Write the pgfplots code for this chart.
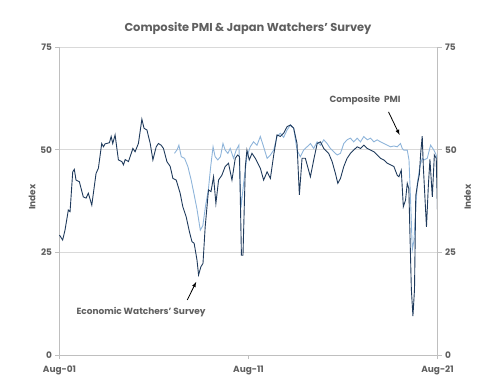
\documentclass[border=0pt]{standalone}
\usepackage{fontspec}
\setmainfont{Poppins}
\usepackage{pgfplots}
\pgfplotsset{compat=1.18}
\definecolor{txt}{HTML}{5F5F5F}
\definecolor{gridc}{HTML}{D9D9D9}
\definecolor{axc}{HTML}{BFBFBF}
\definecolor{ews}{HTML}{1F3A5C}
\definecolor{pmi}{HTML}{8EB4DA}
\begin{document}
\begin{tikzpicture}
\useasboundingbox (-59.5bp,-33bp) rectangle (432.5bp,355bp);
\begin{axis}[
  at={(0,0)}, anchor=south west,
  scale only axis, width=378bp, height=308bp,
  xmin=0, xmax=240, ymin=0, ymax=75,
  axis x line*=bottom, axis y line*=left,
  axis line style={axc, line width=0.8pt, -},
  xtick={0,120,240}, xticklabels={Aug-01,Aug-11,Aug-21},
  ytick={0,25,50,75},
  ymajorgrids, grid style={gridc, line width=0.8pt},
  tick style={axc, line width=0.8pt},
  major tick length=4bp, tick align=outside,
  tick label style={font=\fontsize{9}{11}\selectfont\bfseries, text=txt},
  /pgf/number format/assume math mode=true,
  xticklabel style={yshift=-3bp},
  clip=false,
]
\addplot[pmi, line width=0.9pt] coordinates {
(73,49.1) (74.7,50.0) (75.8,51.1) (77.3,48.3) (79.4,47.9) (81.5,45.9) (83.6,42.6) (85.3,39.4) (87.3,35.5) (89.4,30.4)
(91.0,31.5) (92.8,36.5) (94.5,40.2) (96.0,45.9) (97.5,50.7) (98.8,48.3) (100.5,47.5) (102.2,48.3) (103.8,51.5) (105.2,49.9)
(106.9,49.1) (108.4,50.3) (110.5,47.9) (112.2,49.9) (113.9,51.1) (115.2,35.8) (116.9,41.8) (119.0,48.3) (121.1,50.7) (123.2,51.9)
(125.4,51.1) (127.5,53.2) (129.6,50.7) (131.8,47.9) (133.9,48.7) (136.0,49.9) (138.1,53.2) (140.2,54.0) (142.3,53.0) (144.5,54.8)
(146.6,56.0) (148.7,55.2) (150.8,49.9) (152.9,48.3) (155.0,49.9) (157.2,50.7) (159.3,51.5) (161.4,50.3) (163.6,51.9) (165.7,51.1)
(167.8,52.4) (169.9,51.5) (172.0,50.3) (174.1,49.5) (176.3,48.7) (178.4,49.1) (180.5,51.5) (182.6,52.4) (184.7,52.8) (186.8,51.9)
(189.0,52.8) (191.1,51.9) (193.2,53.2) (195.4,52.4) (197.5,52.8) (199.6,51.9) (201.7,52.4) (203.8,51.9) (205.9,51.5) (208.1,51.1)
(210.2,50.7) (212.3,50.9) (214.4,50.7) (216.5,51.5) (217.6,50.3) (218.6,49.9) (220.8,49.9) (221.9,47.5) (222.9,37.7) (224.0,25.6)
(225.1,28.0) (226.1,35.3) (227.2,41.8) (228.8,45.9) (230.3,47.9) (231.4,47.5) (233.5,47.9) (235.6,51.1) (237.7,49.9) (239.2,48.7) (240,47.1)
};
\addplot[ews, line width=0.9pt] coordinates {
(0,29.2) (2,28.0) (3.5,30.4) (5.6,35.3) (6.7,34.9) (8.4,44.6) (9.4,45.2) (10.5,42.6) (12.6,42.2) (15.1,38.5)
(16.9,38.2) (18.3,39.4) (20.5,36.5) (23.2,44.2) (24.7,45.5) (26.8,51.5) (27.9,50.7) (28.9,51.4) (31.7,51.7) (32.8,53.2)
(33.8,51.5) (35.3,53.6) (37.4,47.5) (39.6,47.1) (40.6,46.3) (41.7,47.6) (43.8,47.1) (46.6,50.3) (48,49.5) (50.1,51.5)
(52.3,57.4) (53.7,55.2) (55.5,54.8) (57.6,51.5) (59.3,47.5) (61.4,50.7) (62.8,51.5) (64.5,51.1) (66,50.3) (68.2,47.1)
(70.3,45.9) (72,43.0) (74.1,42.6) (76.6,39.4) (78.3,36.1) (80.4,33.7) (82.5,30.0) (84.1,27.6) (85.5,27.2) (87.3,23.1)
(88.3,19.5) (89.8,21.5) (91.1,22.3) (92.5,31.2) (94.6,40.2) (96.2,39.8) (97.8,43.4) (99.3,36.9) (101,42.6) (103.1,43.8)
(105.2,45.9) (107.3,46.7) (109.5,42.6) (111.6,47.9) (113.1,48.7) (114.3,48.3) (115.5,24.3) (116.5,24.3) (118,45.9) (119,49.9)
(120.5,47.5) (122.2,49.1) (124.3,47.9) (127.5,45.5) (129.6,42.6) (131.8,44.6) (133.9,43.0) (136,48.7) (138.1,53.6) (140.2,53.2)
(142.3,54.0) (144.5,55.6) (146.6,56.0) (148.7,55.2) (150.8,51.5) (152.3,39.0) (154,47.9) (156.1,47.9) (159.3,43.4) (161.4,47.5)
(163.6,51.5) (165.7,51.9) (167.8,50.3) (170.9,49.1) (173.1,47.1) (175.2,44.2) (176.7,41.8) (178.4,43.0) (180.5,45.9) (182.6,47.9)
(184.7,49.1) (186.8,49.9) (189,50.7) (191.1,50.3) (193.2,51.1) (195.4,50.3) (197.5,49.9) (199.6,49.5) (201.7,48.7) (203.8,47.9)
(205.9,47.5) (208.1,46.7) (210.2,46.3) (212.3,45.9) (214.4,43.8) (215.5,43.4) (217,45.0) (218.3,36.1) (219.7,37.7) (220.8,41.8)
(221.8,40.5) (222.6,28) (223.4,16) (224.4,9.5) (225.4,16) (226.2,38.8) (227.5,42) (228.5,44) (229.3,49) (230.3,53.3)
(231.0,45.9) (233.0,31.2) (234.2,41.3) (235.2,47.6) (236.7,38.5) (238.0,48.7) (239.2,47.9) (240,34.9)
};
\draw[-latex, line width=0.8pt, black] (axis cs:208.9,59.2) -- (axis cs:215.9,53.6);
\draw[-latex, line width=0.8pt, black] (axis cs:81.1,13.4) -- (axis cs:86.8,17.8);
\node[font=\fontsize{9}{11}\selectfont\bfseries, text=txt] at (axis cs:194,62.1) {Composite\ \ PMI};
\node[font=\fontsize{9}{11}\selectfont\bfseries, text=txt] at (axis cs:51.8,10.5) {Economic Watchers' Survey};
\end{axis}
\begin{axis}[
  at={(0,0)}, anchor=south west,
  scale only axis, width=378bp, height=308bp,
  xmin=0, xmax=240, ymin=0, ymax=75,
  axis x line=none, axis y line*=right,
  axis line style={axc, line width=0.8pt, -},
  ytick={0,25,50,75},
  tick style={axc, line width=0.8pt},
  major tick length=4bp, tick align=outside,
  tick label style={font=\fontsize{9}{11}\selectfont\bfseries, text=txt},
  /pgf/number format/assume math mode=true,
]
\end{axis}
\node[font=\fontsize{11.5}{14}\selectfont\bfseries, text=txt] at (188.5bp,327bp) {Composite PMI \& Japan Watchers' Survey};
\node[rotate=90, font=\fontsize{9}{11}\selectfont\bfseries, text=txt] at (-27.5bp,158bp) {Index};
\node[rotate=90, font=\fontsize{9}{11}\selectfont\bfseries, text=txt] at (408bp,158bp) {Index};
\end{tikzpicture}
\end{document}
